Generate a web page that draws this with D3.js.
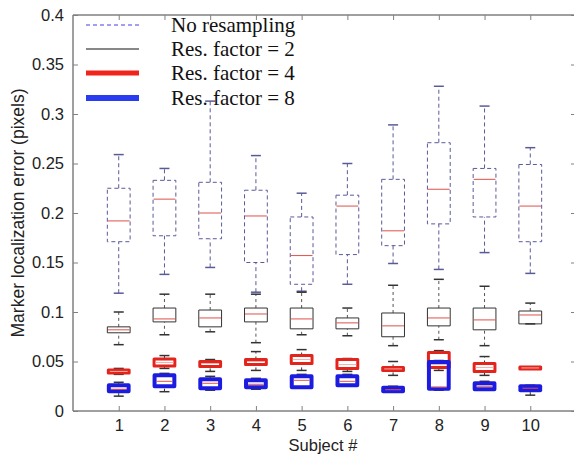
<!DOCTYPE html>
<html>
<head>
<meta charset="utf-8">
<script src="https://cdn.jsdelivr.net/npm/d3@7"></script>
<style>
  body { margin: 0; background: #fff; }
  svg { display: block; }
</style>
</head>
<body>
<svg width="574" height="456"></svg>
<script>
// subjects and y ticks
var subjects = [1, 2, 3, 4, 5, 6, 7, 8, 9, 10];
var yTicks = [0, 0.05, 0.1, 0.15, 0.2, 0.25, 0.3, 0.35, 0.4];

// box stats per subject: [whisker low, q1, median, q3, whisker high]
var noResampling = [
  [0.119, 0.171, 0.192, 0.225, 0.259],
  [0.138, 0.177, 0.214, 0.233, 0.245],
  [0.145, 0.174, 0.200, 0.231, 0.313],
  [0.120, 0.150, 0.197, 0.223, 0.258],
  [0.121, 0.128, 0.157, 0.196, 0.220],
  [0.128, 0.158, 0.207, 0.218, 0.250],
  [0.149, 0.167, 0.182, 0.234, 0.289],
  [0.143, 0.189, 0.224, 0.271, 0.328],
  [0.160, 0.196, 0.234, 0.245, 0.308],
  [0.139, 0.171, 0.207, 0.249, 0.266]
];
var resFactor2 = [
  [0.067, 0.079, 0.082, 0.085, 0.100],
  [0.077, 0.090, 0.093, 0.104, 0.118],
  [0.080, 0.085, 0.094, 0.102, 0.118],
  [0.069, 0.090, 0.098, 0.104, 0.118],
  [0.077, 0.083, 0.093, 0.104, 0.120],
  [0.076, 0.083, 0.089, 0.094, 0.104],
  [0.066, 0.075, 0.086, 0.099, 0.127],
  [0.072, 0.086, 0.094, 0.104, 0.133],
  [0.066, 0.082, 0.092, 0.104, 0.126],
  [0.088, 0.088, 0.097, 0.101, 0.109]
];
var resFactor4 = [
  [0.037, 0.0385, 0.040, 0.0415, 0.043],
  [0.043, 0.0455, 0.049, 0.0525, 0.056],
  [0.040, 0.045, 0.048, 0.050, 0.052],
  [0.041, 0.047, 0.050, 0.052, 0.060],
  [0.041, 0.048, 0.052, 0.056, 0.062],
  [0.040, 0.043, 0.047, 0.052, 0.053],
  [0.036, 0.041, 0.0425, 0.044, 0.050],
  [0.041, 0.044, 0.047, 0.059, 0.061],
  [0.036, 0.040, 0.044, 0.048, 0.055],
  [0.0425, 0.0425, 0.0435, 0.0445, 0.0445]
];
var resFactor8 = [
  [0.015, 0.020, 0.022, 0.026, 0.029],
  [0.0195, 0.025, 0.030, 0.036, 0.038],
  [0.021, 0.023, 0.028, 0.032, 0.035],
  [0.022, 0.024, 0.027, 0.031, 0.033],
  [0.023, 0.024, 0.031, 0.035, 0.037],
  [0.025, 0.026, 0.030, 0.035, 0.037],
  [0.019, 0.020, 0.0215, 0.0235, 0.025],
  [0.021, 0.0225, 0.024, 0.0495, 0.051],
  [0.021, 0.022, 0.025, 0.028, 0.030],
  [0.016, 0.021, 0.023, 0.025, 0.026]
];
var seriesNames = ["No resampling", "Res. factor = 2", "Res. factor = 4", "Res. factor = 8"];

var svg = d3.select("svg");
var plotLeft = 73, plotRight = 576, plotTop = 15, plotBottom = 411;

var xScale = d3.scaleLinear().domain([0, 11]).range([plotLeft, plotRight]);
var yScale = d3.scaleLinear().domain([0, 0.4]).range([plotBottom, plotTop]);

var axisColor = "#808080";
var font = "'Liberation Sans', Arial, sans-serif";

// styles per series
var styles = [
  { box: "#5a5a98", width: 1, dash: "4,3", whisker: "#5a5a98", wdash: "4,3", cap: "#5a5a98" },
  { box: "#333", width: 1, dash: null, whisker: "#555", wdash: "3,3", cap: "#333" },
  { box: "#e3241d", width: 3, dash: null, whisker: "#333", wdash: "3,3", cap: "#333" },
  { box: "#1c1ce0", width: 4, dash: null, whisker: "#333", wdash: "3,3", cap: "#333" }
];
var allSeries = [noResampling, resFactor2, resFactor4, resFactor8];

var boxHalf = (xScale(1) - xScale(0)) * 0.26;
var capHalf = 5;

// frame
svg.append("line").attr("x1", plotLeft).attr("x2", plotLeft).attr("y1", plotTop).attr("y2", plotBottom)
  .attr("stroke", axisColor).attr("stroke-width", 1.5);
svg.append("line").attr("x1", plotLeft).attr("x2", plotRight).attr("y1", plotBottom).attr("y2", plotBottom)
  .attr("stroke", axisColor).attr("stroke-width", 1.5);
svg.append("line").attr("x1", plotLeft).attr("x2", plotRight).attr("y1", plotTop).attr("y2", plotTop)
  .attr("stroke", axisColor).attr("stroke-width", 1.5);

// ticks pointing inward
var yAxisL = d3.axisLeft(yScale).tickValues(yTicks).tickSize(-5).tickPadding(9)
  .tickFormat(function(d) { return String(+d.toFixed(2)); });
var gy = svg.append("g").attr("transform", "translate(" + plotLeft + ",0)").call(yAxisL);
gy.select(".domain").remove();
gy.selectAll("line").attr("stroke", axisColor);
gy.selectAll("text").style("font-family", font).style("font-size", "16.5px").attr("fill", "#222");

var gyr = svg.append("g").attr("transform", "translate(" + plotRight + ",0)")
  .call(d3.axisRight(yScale).tickValues(yTicks).tickSize(-5).tickFormat(""));
gyr.select(".domain").remove();
gyr.selectAll("line").attr("stroke", axisColor);

var gx = svg.append("g").attr("transform", "translate(0," + plotBottom + ")")
  .call(d3.axisBottom(xScale).tickValues(subjects).tickSize(-5).tickPadding(8));
gx.select(".domain").remove();
gx.selectAll("line").attr("stroke", axisColor);
gx.selectAll("text").style("font-family", font).style("font-size", "16.5px").attr("fill", "#222");

var gxt = svg.append("g").attr("transform", "translate(0," + plotTop + ")")
  .call(d3.axisTop(xScale).tickValues(subjects).tickSize(-5).tickFormat(""));
gxt.select(".domain").remove();
gxt.selectAll("line").attr("stroke", axisColor);

// axis labels
svg.append("text")
  .text("Subject #")
  .attr("x", 323)
  .attr("y", 451)
  .style("text-anchor", "middle")
  .style("font-family", font)
  .style("font-size", "16.5px")
  .attr("fill", "#222");

svg.append("text")
  .text("Marker localization error (pixels)")
  .attr("transform", "translate(24,213) rotate(-90)")
  .style("text-anchor", "middle")
  .style("font-family", font)
  .style("font-size", "17.5px")
  .attr("fill", "#222");

// boxes
allSeries.forEach(function(data, si) {
  var st = styles[si];
  var g = svg.append("g");
  var rows = data.map(function(d, i) { return { x: subjects[i], s: d }; });

  var items = g.selectAll("g.box").data(rows).enter().append("g").attr("class", "box");

  // whiskers
  items.append("line")
    .attr("x1", d => xScale(d.x)).attr("x2", d => xScale(d.x))
    .attr("y1", d => yScale(d.s[3])).attr("y2", d => yScale(d.s[4]))
    .attr("stroke", st.whisker).attr("stroke-dasharray", st.wdash);
  items.append("line")
    .attr("x1", d => xScale(d.x)).attr("x2", d => xScale(d.x))
    .attr("y1", d => yScale(d.s[0])).attr("y2", d => yScale(d.s[1]))
    .attr("stroke", st.whisker).attr("stroke-dasharray", st.wdash);
  // caps
  [0, 4].forEach(function(k) {
    items.append("line")
      .attr("x1", d => xScale(d.x) - capHalf).attr("x2", d => xScale(d.x) + capHalf)
      .attr("y1", d => yScale(d.s[k])).attr("y2", d => yScale(d.s[k]))
      .attr("stroke", st.cap).attr("stroke-width", 1.5);
  });
  // box
  items.append("rect")
    .attr("x", d => xScale(d.x) - boxHalf + st.width / 2)
    .attr("width", boxHalf * 2 - st.width)
    .attr("y", d => yScale(d.s[3]))
    .attr("height", d => Math.max(0.5, yScale(d.s[1]) - yScale(d.s[3])))
    .attr("fill", "none")
    .attr("stroke", st.box)
    .attr("stroke-width", st.width)
    .attr("stroke-dasharray", st.dash)
    .attr("stroke-linejoin", "round");
  // median
  items.append("line")
    .attr("x1", d => xScale(d.x) - boxHalf + st.width)
    .attr("x2", d => xScale(d.x) + boxHalf - st.width)
    .attr("y1", d => yScale(d.s[2])).attr("y2", d => yScale(d.s[2]))
    .attr("stroke", si === 2 ? "#f4b0a8" : "#e0504a").attr("stroke-width", 1);
});

// legend
var legendX1 = 86, legendX2 = 139, legendText = 171;
var legendY = [25, 49, 73, 98];
var legendLines = [
  { color: "#3f3ff0", width: 1, dash: "4,3" },
  { color: "#111", width: 1.2, dash: null },
  { color: "#f0241a", width: 5, dash: null },
  { color: "#2a3cf0", width: 6, dash: null }
];
var leg = svg.append("g").selectAll("g").data(seriesNames).enter().append("g");
leg.append("line")
  .attr("x1", legendX1).attr("x2", legendX2)
  .attr("y1", (d, i) => legendY[i]).attr("y2", (d, i) => legendY[i])
  .attr("stroke", (d, i) => legendLines[i].color)
  .attr("stroke-width", (d, i) => legendLines[i].width)
  .attr("stroke-dasharray", (d, i) => legendLines[i].dash);
leg.append("text")
  .text(d => d)
  .attr("x", legendText)
  .attr("y", (d, i) => legendY[i] + 7)
  .style("font-family", "'Liberation Serif', 'Times New Roman', serif")
  .style("font-size", "21px")
  .attr("fill", "#111");
</script>
</body>
</html>
